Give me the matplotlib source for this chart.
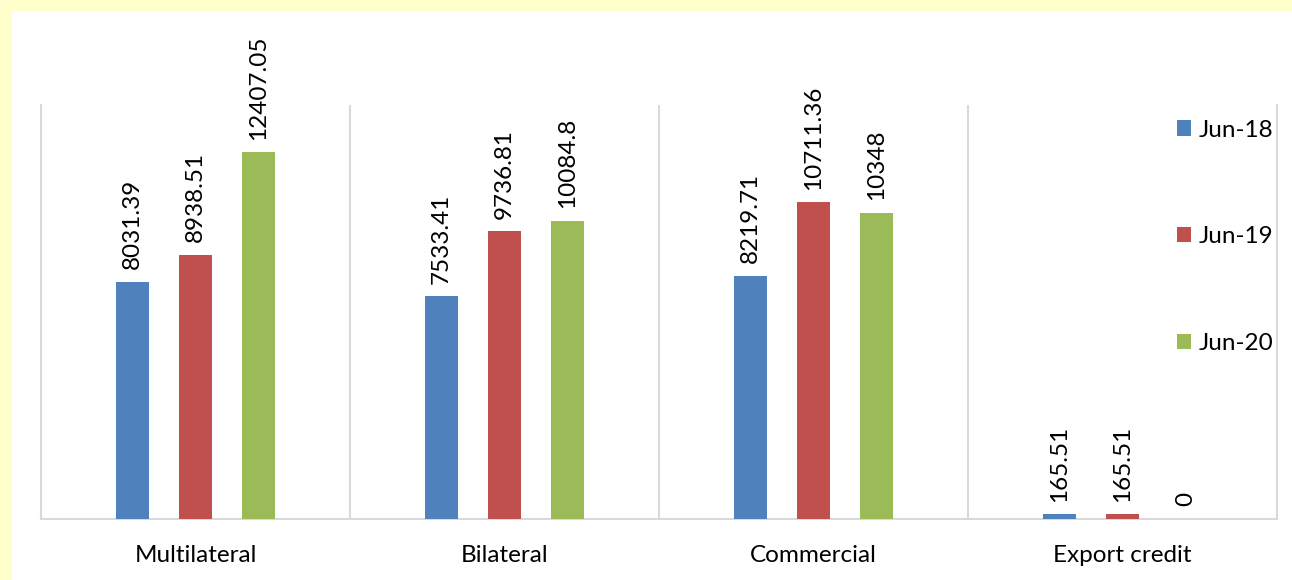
import numpy as np
import matplotlib.pyplot as plt
from matplotlib.patches import Rectangle

categories = ["Multilateral", "Bilateral", "Commercial", "Export credit"]
series = ["Jun-18", "Jun-19", "Jun-20"]
jun18 = [8031.39, 7533.41, 8219.71, 165.51]
jun19 = [8938.51, 9736.81, 10711.36, 165.51]
jun20 = [12407.05, 10084.8, 10348, 0]
label_text = [
    ["8031.39", "7533.41", "8219.71", "165.51"],
    ["8938.51", "9736.81", "10711.36", "165.51"],
    ["12407.05", "10084.8", "10348", "0"],
]
colors = ["#4F81BD", "#C0504D", "#9BBB59"]

plt.rcParams["font.family"] = ["Lato", "DejaVu Sans"]

fig = plt.figure(figsize=(12.92, 5.8), dpi=100)
fig.patch.set_facecolor("#FFFFCC")
# white chart area (yellow frame only visible top/left)
fig.patches.append(Rectangle((12 / 1292, 0), 1 - 12 / 1292, 1 - 11 / 580,
                             transform=fig.transFigure, facecolor="white",
                             edgecolor="none", zorder=-5))

ax = fig.add_axes([41 / 1292, 1 - 519 / 580, (1277 - 41) / 1292, (519 - 105) / 580])
ax.set_facecolor("none")

x = np.arange(len(categories))
width = 0.107
step = 0.205
grid_c = "#D9D9D9"
fs = 17.5

for i, (vals, c) in enumerate(zip([jun18, jun19, jun20], colors)):
    b = ax.bar(x + (i - 1) * step, vals, width, color=c, label=series[i], zorder=3)
    for rect, t in zip(b, label_text[i]):
        ax.annotate(t, (rect.get_x() + rect.get_width() / 2, rect.get_height()),
                    xytext=(0, 9), textcoords="offset points",
                    rotation=90, ha="center", va="bottom", fontsize=fs)

for xv in np.arange(0.5, len(categories) - 0.5, 1):
    ax.axvline(xv, color=grid_c, lw=1.5, zorder=1)

ax.set_xlim(-0.5, len(categories) - 0.5)
ax.set_ylim(0, 14000)
ax.set_yticks([])
ax.set_xticks(x)
ax.set_xticklabels(categories, fontsize=fs)
ax.tick_params(axis="x", length=0, pad=19)
ax.spines["top"].set_visible(False)
for s in ["left", "right", "bottom"]:
    ax.spines[s].set_color(grid_c)
    ax.spines[s].set_linewidth(1.5)

fig.legend(loc="upper left", bbox_to_anchor=(1167 / 1292, 1 - 110 / 580),
           frameon=False, fontsize=fs, handlelength=0.6, handleheight=0.6,
           handletextpad=0.3, labelspacing=3.52, borderaxespad=0)

fig.savefig("out.png", dpi=100, facecolor=fig.get_facecolor())
